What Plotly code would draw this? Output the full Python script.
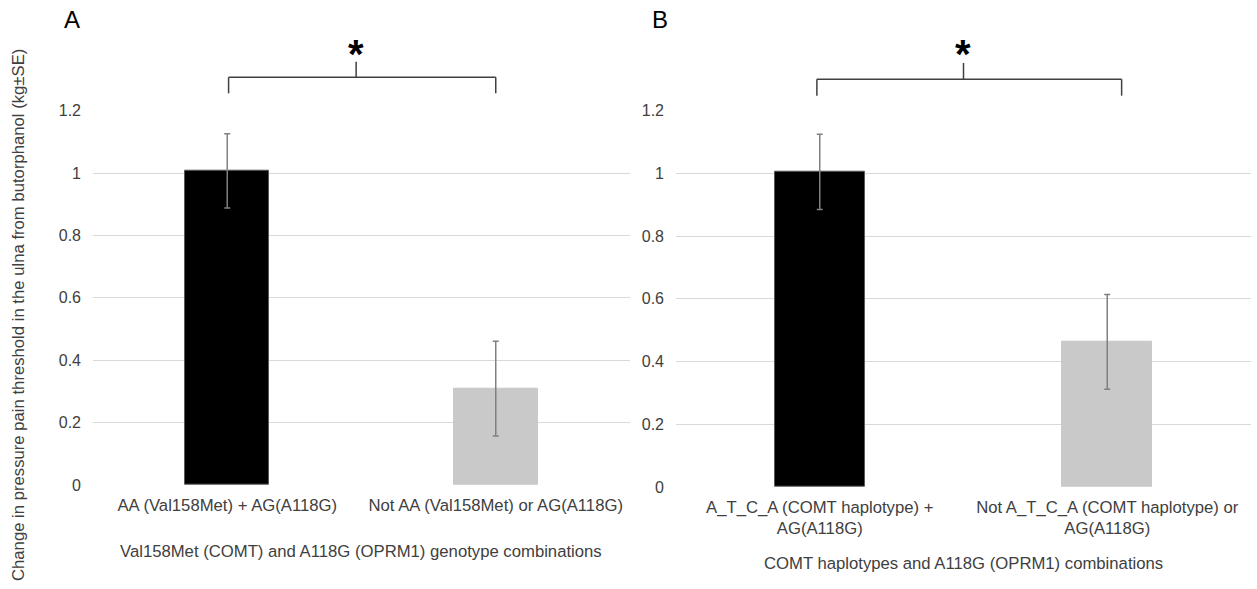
import plotly.graph_objects as go

# ---- data ----
cats_a = ["AA (Val158Met) + AG(A118G)", "Not AA (Val158Met) or AG(A118G)"]
vals_a = [1.007, 0.309]
err_a = [0.119, 0.152]

cats_b = ["A_T_C_A (COMT haplotype) +<br>AG(A118G)", "Not A_T_C_A (COMT haplotype) or<br>AG(A118G)"]
vals_b = [1.005, 0.463]
err_b = [0.120, 0.151]

bar_colors = ["#000000", "#c9c9c9"]
yticks = [0, 0.2, 0.4, 0.6, 0.8, 1.0, 1.2]

W, H = 1257, 589
def px(x):
    return x / W
def py(y):
    return 1 - y / H

FONT = "Liberation Sans, Arial, sans-serif"
TXT = "#404040"
FS = 16.7

fig = go.Figure()
fig.add_trace(go.Bar(
    x=[0, 1], y=vals_a, width=0.3125,
    marker=dict(color=bar_colors, line=dict(color=["#595959", "#c9c9c9"], width=1)),
    error_y=dict(type="data", array=err_a, visible=True, color="#808080", thickness=1.5, width=3),
    xaxis="x", yaxis="y", showlegend=False, hoverinfo="skip"))
fig.add_trace(go.Bar(
    x=[0, 1], y=vals_b, width=0.3125,
    marker=dict(color=bar_colors, line=dict(color=["#595959", "#c9c9c9"], width=1)),
    error_y=dict(type="data", array=err_b, visible=True, color="#808080", thickness=1.5, width=3),
    xaxis="x2", yaxis="y2", showlegend=False, hoverinfo="skip"))

common_x = dict(range=[-0.5, 1.5], tickvals=[0, 1], showgrid=False, zeroline=False,
                showline=False, ticks="", tickfont=dict(family=FONT, size=FS, color=TXT),
                ticklabelstandoff=8, fixedrange=True, automargin=False)
common_y = dict(range=[0, 1.2], tickvals=yticks, ticktext=["0", "0.2", "0.4", "0.6", "0.8", "1", "1.2"],
                showgrid=True, gridcolor="#d9d9d9", gridwidth=1, zeroline=False,
                showline=False, ticks="", tickfont=dict(family=FONT, size=16, color=TXT),
                ticklabelstandoff=11, fixedrange=True, automargin=False)

fig.update_layout(
    width=W, height=H, margin=dict(l=0, r=0, t=0, b=0, pad=0, autoexpand=False),
    paper_bgcolor="white", plot_bgcolor="white",
    bargap=0,
    xaxis=dict(common_x, domain=[px(93), px(630)], ticktext=cats_a, anchor="y"),
    yaxis=dict(common_y, domain=[py(485), py(110.7)], anchor="x"),
    xaxis2=dict(common_x, domain=[px(676), px(1251)], ticktext=cats_b, anchor="y2"),
    yaxis2=dict(common_y, domain=[py(487), py(110.7)], anchor="x2"),
    font=dict(family=FONT, size=FS, color=TXT),
)

line = dict(color="#404040", width=1.5)
shapes = []
for (xref, x0, x1, yh, yl, yt) in [("x", 0.005, 1.0, 77.3, 93.3, 61.7), ("x2", -0.01, 1.05, 79.3, 95.7, 63)]:
    shapes.append(dict(type="line", xref=xref, yref="paper", x0=x0, x1=x1, y0=py(yh), y1=py(yh), line=line))
    shapes.append(dict(type="line", xref=xref, yref="paper", x0=x0, x1=x0, y0=py(yh), y1=py(yl), line=line))
    shapes.append(dict(type="line", xref=xref, yref="paper", x0=x1, x1=x1, y0=py(yh), y1=py(yl), line=line))
    xm = 0.48 if xref == "x" else 0.5
    shapes.append(dict(type="line", xref=xref, yref="paper", x0=xm, x1=xm, y0=py(yh), y1=py(yt), line=line))
fig.update_layout(shapes=shapes)

ann = []
for xref, xm in [("x", 0.48), ("x2", 0.5)]:
    ann.append(dict(text="<b>*</b>", xref=xref, yref="paper", x=xm, y=py(30), yanchor="top",
                    showarrow=False, font=dict(family=FONT, size=40, color="#000000")))
ann.append(dict(text="A", xref="paper", yref="paper", x=px(72), y=py(20), xanchor="center", yanchor="middle",
                showarrow=False, font=dict(family=FONT, size=24, color="#000000")))
ann.append(dict(text="B", xref="paper", yref="paper", x=px(660), y=py(20), xanchor="center", yanchor="middle",
                showarrow=False, font=dict(family=FONT, size=24, color="#000000")))
ann.append(dict(text="Val158Met (COMT) and A118G (OPRM1) genotype combinations", xref="paper", yref="paper",
                x=px(361.5), y=py(551), xanchor="center", yanchor="middle", showarrow=False,
                font=dict(family=FONT, size=FS, color=TXT)))
ann.append(dict(text="COMT haplotypes and A118G (OPRM1) combinations", xref="paper", yref="paper",
                x=px(963.5), y=py(563), xanchor="center", yanchor="middle", showarrow=False,
                font=dict(family=FONT, size=FS, color=TXT)))
ann.append(dict(text="Change in pressure pain threshold in the ulna from butorphanol (kg±SE)", xref="paper", yref="paper",
                x=px(18), y=py(315), xanchor="center", yanchor="middle", textangle=-90, showarrow=False,
                font=dict(family=FONT, size=FS, color=TXT)))
fig.update_layout(annotations=ann)

fig.write_html("out.html")
